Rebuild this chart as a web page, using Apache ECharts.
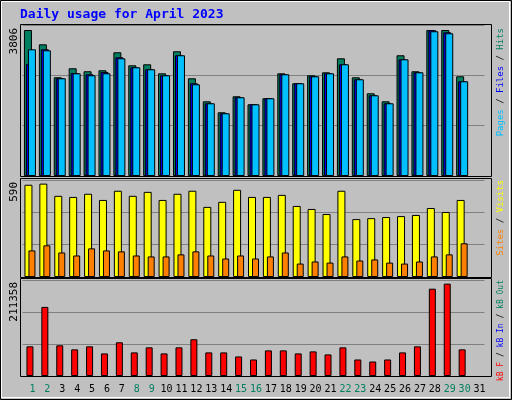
<!DOCTYPE html>
<html><head><meta charset="utf-8">
<script src="https://cdn.jsdelivr.net/npm/echarts@6/dist/echarts.min.js"></script>
<style>html,body{margin:0;padding:0;background:#c0c0c0}#c{width:512px;height:400px}</style>
</head><body><div id="c"></div>
<script>
const days = Array.from({length:31},(_,i)=>String(i+1));
const weekendDays = ['1','2','8','9','15','16','22','23','29','30'];
const hits  = [3806,3433,2573,2808,2730,2756,3225,2886,2912,2677,3251,2547,1947,1661,2078,1869,2026,2677,2417,2625,2703,3068,2573,2156,1947,3147,2730,3806,3806,2599,null];
const files = [2920,3303,2547,2685,2651,2711,3094,2834,2782,2625,3147,2417,1895,1635,2052,1869,2026,2651,2417,2599,2677,2912,2521,2104,1895,3042,2703,3799,3746,2469,null];
const pages = [3303,3277,2547,2677,2625,2677,3068,2834,2782,2625,3147,2391,1895,1635,2052,1869,2026,2651,2417,2599,2677,2912,2521,2104,1895,3042,2703,3773,3720,2469,null];
const visits= [583,590,513,506,526,487,545,513,538,487,526,545,443,475,551,506,506,519,449,430,398,545,366,372,379,385,392,436,411,487,null];
const sites = [168,200,155,136,181,168,162,136,130,130,143,162,136,117,136,117,130,155,85,98,91,130,104,111,91,85,98,130,143,213,null];
const kbF   = [67880,158140,70200,60940,67880,51680,77140,54000,65570,51680,65570,84080,54000,54000,44740,37800,58630,58630,51680,56310,49370,65570,37800,33170,37800,54000,67880,199790,211358,60940,null];
const maxLabels = ['3806','590','211358'];

const chart = echarts.init(document.getElementById('c'));
const mono = 'DejaVu Sans Mono';
const GL = 22.5, GW = 462;
const grids = [{top:25,height:151},{top:180,height:97},{top:280,height:96}];
const axMax = [3936, 613, 219680];
function xAx(i){return {type:'category',gridIndex:i,data:days,axisLine:{show:false},axisTick:{show:false},
  axisLabel:{show:i===2,interval:0,margin:8,padding:[0,0,0,5],fontFamily:mono,fontSize:10,
   color:function(v){return weekendDays.includes(v)?'#008060':'#000';}}};}
function yAx(i){return {type:'value',gridIndex:i,min:0,max:axMax[i],interval:axMax[i]/3,axisLabel:{show:false},
  axisLine:{show:false},axisTick:{show:false},splitLine:{show:true,lineStyle:{color:'#808080',width:1}}};}
const bs = {borderColor:'#000',borderWidth:1};
const f9 = '9px '+mono;
chart.setOption({
  animation:false,
  backgroundColor:'#c0c0c0',
  grid: grids.map(g=>({left:GL,width:GW,top:g.top,height:g.height})),
  xAxis:[xAx(0),xAx(1),xAx(2)],
  yAxis:[yAx(0),yAx(1),yAx(2)],
  series:[
    {type:'bar',xAxisIndex:0,yAxisIndex:0,data:hits,barWidth:8,barGap:'-75%',itemStyle:Object.assign({color:'#008060'},bs)},
    {type:'bar',xAxisIndex:0,yAxisIndex:0,data:files,barWidth:8,barGap:'-75%',itemStyle:Object.assign({color:'#0000ff'},bs)},
    {type:'bar',xAxisIndex:0,yAxisIndex:0,data:pages,barWidth:8,barGap:'-75%',itemStyle:Object.assign({color:'#00c0ff'},bs)},
    {type:'bar',xAxisIndex:1,yAxisIndex:1,data:visits,barWidth:8,barGap:'-50%',itemStyle:Object.assign({color:'#ffff00'},bs)},
    {type:'bar',xAxisIndex:1,yAxisIndex:1,data:sites,barWidth:7,barGap:'-50%',itemStyle:Object.assign({color:'#ff8000'},bs)},
    {type:'bar',xAxisIndex:2,yAxisIndex:2,data:kbF,barWidth:7,itemStyle:Object.assign({color:'#ff0000'},bs)}
  ],
  graphic:[
    {type:'rect',shape:{x:0.5,y:0.5,width:511,height:399},style:{fill:'none',stroke:'#000',lineWidth:1},z:100},
    {type:'rect',shape:{x:1.5,y:1.5,width:508,height:396},style:{fill:'none',stroke:'#fff',lineWidth:1},z:100},
    {type:'rect',shape:{x:20.5,y:24.5,width:471,height:152},style:{fill:'none',stroke:'#000',lineWidth:1},z:100},
    {type:'rect',shape:{x:20.5,y:178.5,width:471,height:99},style:{fill:'none',stroke:'#000',lineWidth:1},z:100},
    {type:'rect',shape:{x:20.5,y:278.5,width:471,height:98},style:{fill:'none',stroke:'#000',lineWidth:1},z:100},
    {type:'text',x:20,y:15,style:{text:'Daily usage for April 2023',font:'bold 13px '+mono,fill:'#0000ff',verticalAlign:'middle'}},
    {type:'text',x:14,y:28,rotation:Math.PI/2,style:{text:maxLabels[0],font:'11px '+mono,fill:'#000',align:'right',verticalAlign:'middle'}},
    {type:'text',x:14,y:182,rotation:Math.PI/2,style:{text:maxLabels[1],font:'11px '+mono,fill:'#000',align:'right',verticalAlign:'middle'}},
    {type:'text',x:14,y:282,rotation:Math.PI/2,style:{text:maxLabels[2],font:'11px '+mono,fill:'#000',align:'right',verticalAlign:'middle'}},
    {type:'text',x:501,y:28,rotation:Math.PI/2,style:{text:'{c|Pages}{k| / }{b|Files}{k| / }{g|Hits}',align:'right',verticalAlign:'middle',
      rich:{c:{fill:'#00c0ff',font:f9},b:{fill:'#0000ff',font:f9},g:{fill:'#008060',font:f9},k:{fill:'#000',font:f9}}}},
    {type:'text',x:501,y:180,rotation:Math.PI/2,style:{text:'{o|Sites}{k| / }{y|Visits}',align:'right',verticalAlign:'middle',
      rich:{o:{fill:'#ff8000',font:f9},y:{fill:'#ffff00',font:f9},k:{fill:'#000',font:f9}}}},
    {type:'text',x:501,y:280,rotation:Math.PI/2,style:{text:'{r|kB F}{k| / }{b|kB In}{k| / }{g|kB Out}',align:'right',verticalAlign:'middle',
      rich:{r:{fill:'#ff0000',font:'8px '+mono},b:{fill:'#0000ff',font:'8px '+mono},g:{fill:'#008060',font:'8px '+mono},k:{fill:'#000',font:'8px '+mono}}}}
  ]
});
</script></body></html>
